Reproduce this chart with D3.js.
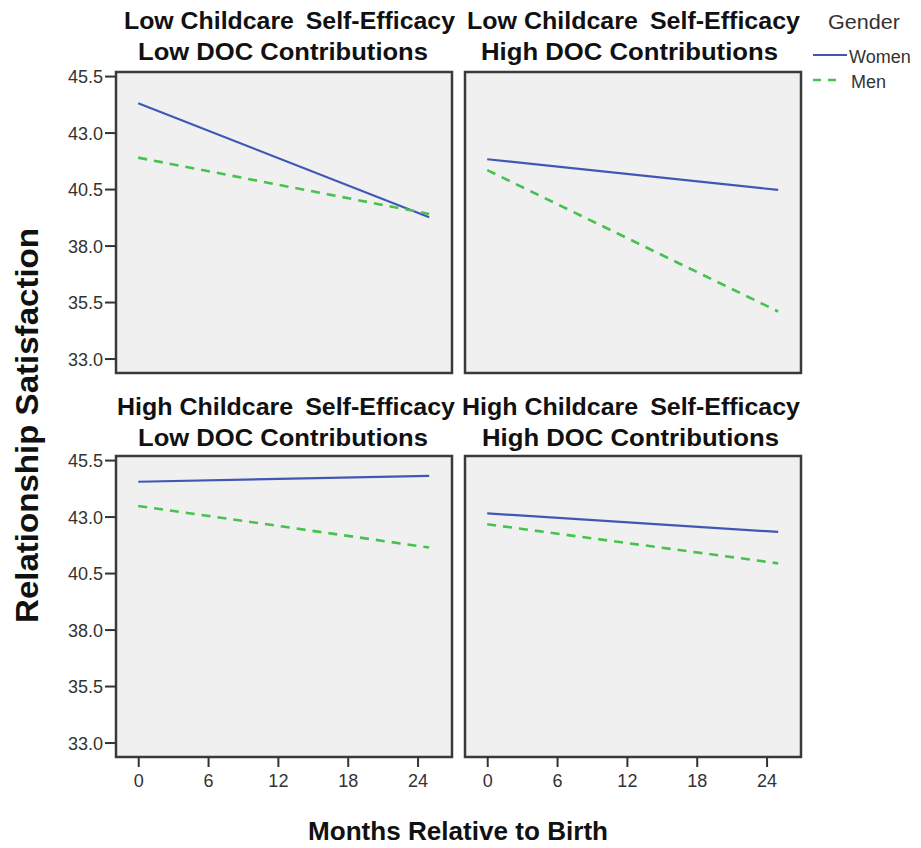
<!DOCTYPE html>
<html>
<head>
<meta charset="utf-8">
<script src="https://cdn.jsdelivr.net/npm/d3@7"></script>
<style>
  html, body { margin: 0; padding: 0; background: #fff; }
  svg { display: block; font-family: "Liberation Sans", Arial, sans-serif; }
</style>
</head>
<body>
<svg id="chart" width="921" height="848"></svg>
<script>
// ---------- data ----------
const titleLine1 = ["Low Childcare\u2009 Self-Efficacy", "Low Childcare\u2009 Self-Efficacy",
                    "High Childcare\u2009 Self-Efficacy", "High Childcare\u2009 Self-Efficacy"];
const titleLine2 = ["Low DOC Contributions", "High DOC Contributions",
                    "Low DOC Contributions", "High DOC Contributions"];
const months = [0, 25];
const womenValues = [[44.30, 39.25], [41.82, 40.46], [44.54, 44.80], [43.14, 42.32]];
const menValues   = [[41.89, 39.40], [41.34, 35.08], [43.47, 41.63], [42.66, 40.93]];
const yTicks = [33.0, 35.5, 38.0, 40.5, 43.0, 45.5];
const xTicks = [0, 6, 12, 18, 24];
const genders = ["Women", "Men"];

// ---------- layout ----------
const svg = d3.select("#chart");
const colLeft = [116, 465];
const rowTop = [72, 456];
const pw = 336, ph = 301;
const womenColor = "#4157b4";
const menColor = "#47c24f";

const x = d3.scaleLinear().domain([-1.91, 26.96]).range([0, pw]);
const y = d3.scaleLinear().domain([32.36, 45.68]).range([ph, 0]);

const line = d3.line().x((d, i) => x(months[i])).y(d => y(d));

const titleGeom = [
  {c1: 289.5, w1: 331, c2: 283, w2: 290},
  {c1: 633.5, w1: 333, c2: 629.5, w2: 297},
  {c1: 286, w1: 338, c2: 283, w2: 290},
  {c1: 631, w1: 338, c2: 630.5, w2: 297}
];

for (let p = 0; p < 4; p++) {
  const col = p % 2, row = Math.floor(p / 2);
  const gx = colLeft[col], gy = rowTop[row];
  const g = svg.append("g").attr("transform", `translate(${gx},${gy})`);

  g.append("rect").attr("width", pw).attr("height", ph)
    .attr("fill", "#f0f0f0").attr("stroke", "#3a3a3a").attr("stroke-width", 2.5);

  g.append("path").datum(womenValues[p]).attr("d", line)
    .attr("fill", "none").attr("stroke", womenColor).attr("stroke-width", 2.2);
  g.append("path").datum(menValues[p]).attr("d", line)
    .attr("fill", "none").attr("stroke", menColor).attr("stroke-width", 2.6)
    .attr("stroke-dasharray", "9,7");

  if (col === 0) {
    const ya = g.append("g").call(d3.axisLeft(y).tickValues(yTicks)
      .tickFormat(d3.format(".1f")).tickSize(11).tickPadding(2).tickSizeOuter(0));
    ya.select(".domain").remove();
    ya.selectAll("line").attr("stroke", "#333").attr("stroke-width", 2);
    ya.selectAll("text").attr("dy", "0.36em")
      .attr("fill", "#333").style("font-size", "18px")
      .style("font-family", '"Liberation Sans", Arial, sans-serif');
  }
  if (row === 1) {
    const xa = g.append("g").attr("transform", `translate(0,${ph})`)
      .call(d3.axisBottom(x).tickValues(xTicks).tickSize(10).tickPadding(7).tickSizeOuter(0));
    xa.select(".domain").remove();
    xa.selectAll("line").attr("stroke", "#333").attr("stroke-width", 2);
    xa.selectAll("text").attr("fill", "#333").style("font-size", "18px")
      .style("font-family", '"Liberation Sans", Arial, sans-serif');
  }

  const tg = titleGeom[p];
  const b1 = row === 0 ? 28.5 : 415;
  const b2 = row === 0 ? 60 : 446;
  svg.append("text").attr("x", tg.c1).attr("y", b1).attr("text-anchor", "middle")
    .attr("textLength", tg.w1).attr("lengthAdjust", "spacingAndGlyphs")
    .style("font-size", "23px").style("font-weight", "bold").attr("fill", "#111")
    .text(titleLine1[p]);
  svg.append("text").attr("x", tg.c2).attr("y", b2).attr("text-anchor", "middle")
    .attr("textLength", tg.w2).attr("lengthAdjust", "spacingAndGlyphs")
    .style("font-size", "23px").style("font-weight", "bold").attr("fill", "#111")
    .text(titleLine2[p]);
}

// axis titles
svg.append("text").attr("transform", "translate(38,425.5) rotate(-90)")
  .attr("text-anchor", "middle").attr("textLength", 395).attr("lengthAdjust", "spacingAndGlyphs")
  .style("font-size", "32px").style("font-weight", "bold").attr("fill", "#111")
  .text("Relationship Satisfaction");
svg.append("text").attr("x", 458).attr("y", 840).attr("text-anchor", "middle")
  .attr("textLength", 300).attr("lengthAdjust", "spacingAndGlyphs")
  .style("font-size", "25px").style("font-weight", "bold").attr("fill", "#111")
  .text("Months Relative to Birth");

// legend
svg.append("text").attr("x", 828).attr("y", 29).attr("textLength", 72)
  .attr("lengthAdjust", "spacingAndGlyphs")
  .style("font-size", "20px").attr("fill", "#333").text("Gender");
const lg = svg.append("g");
genders.forEach((gname, i) => {
  const yy = 55 + i * 25;
  lg.append("line").attr("x1", 813).attr("x2", i === 0 ? 847 : 840)
    .attr("y1", yy).attr("y2", yy)
    .attr("stroke", i === 0 ? womenColor : menColor)
    .attr("stroke-width", i === 0 ? 2 : 2.5)
    .attr("stroke-dasharray", i === 0 ? null : "8,7");
  lg.append("text").attr("x", i === 0 ? 849 : 851).attr("y", yy + 8)
    .style("font-size", "18px").attr("fill", "#333").text(gname);
});
</script>
</body>
</html>
